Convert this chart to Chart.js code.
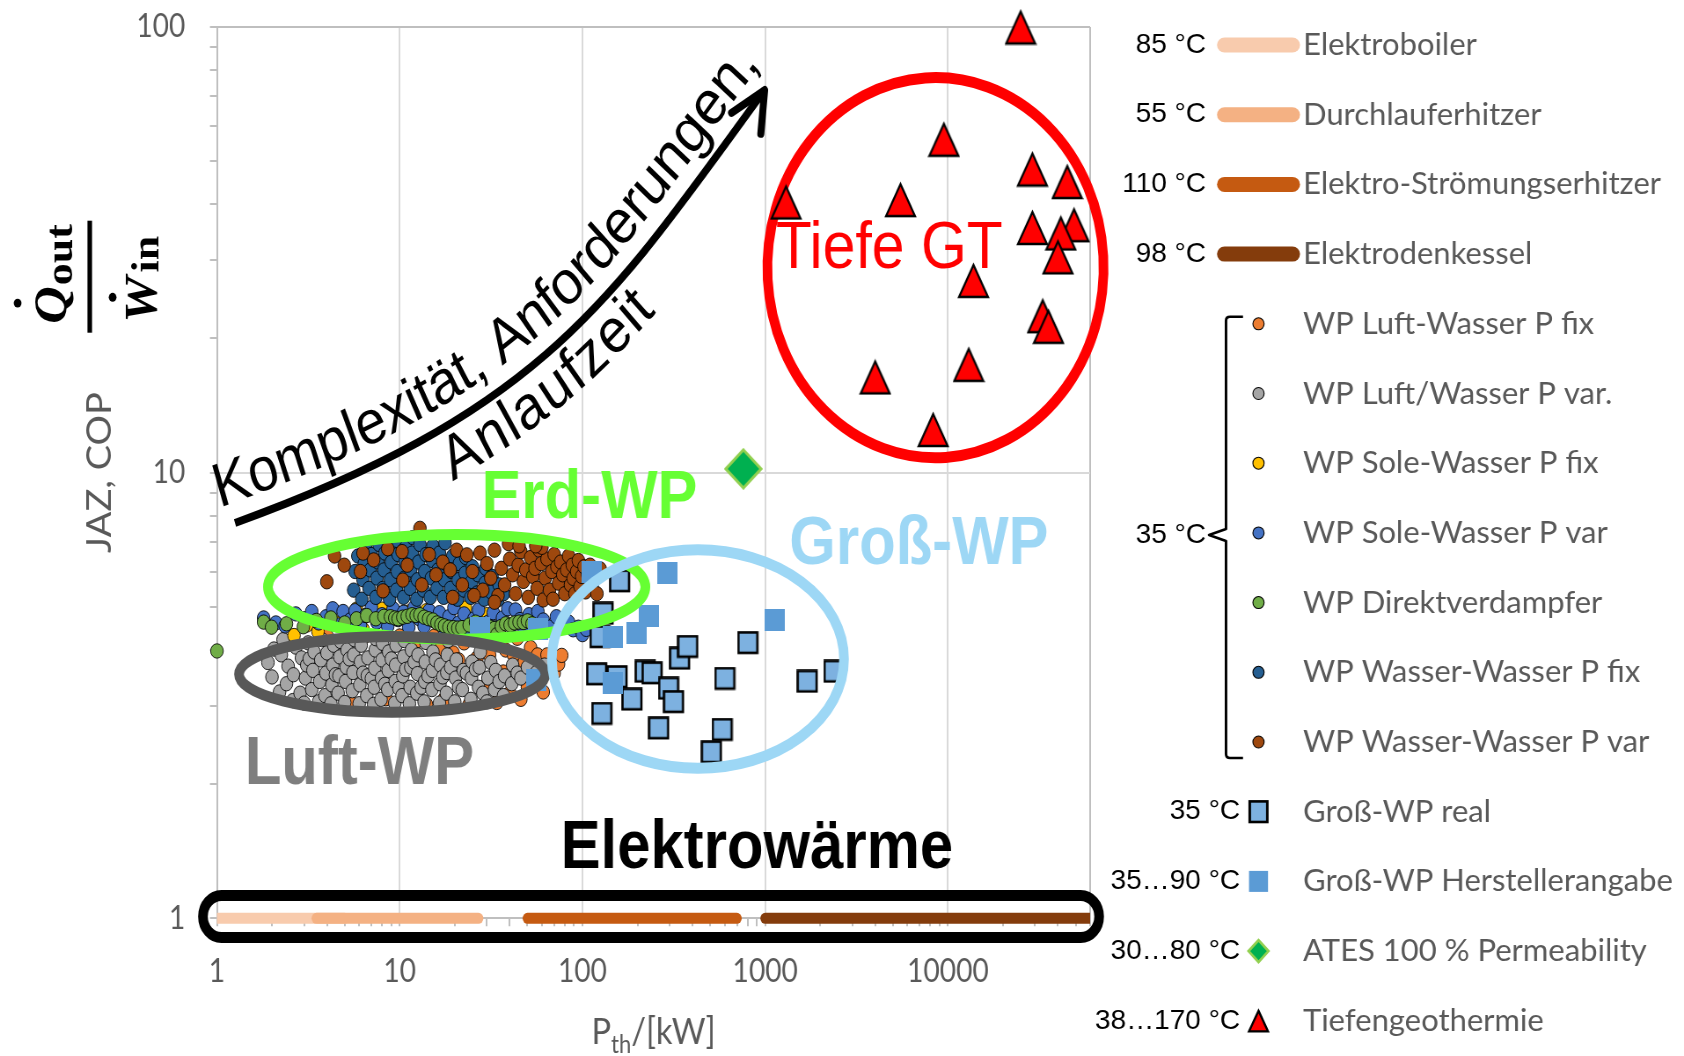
<!DOCTYPE html>
<html>
<head>
<meta charset="utf-8">
<title>JAZ / COP über thermischer Leistung</title>
<script src="https://cdn.jsdelivr.net/npm/chart.js@4.4.1/dist/chart.umd.min.js"></script>
<style>
  html, body { margin: 0; padding: 0; background: #ffffff; }
  canvas { display: block; }
</style>
</head>
<body>
<canvas id="chart" width="1914" height="1056" style="width:1684px;height:1056px"></canvas>
<script>
// The backing store is wider than the displayed canvas, so the whole figure
// appears horizontally condensed by K (the legend is drawn un-condensed).
const K = 1684 / 1914;

// ---------------- Elektrowärme: COP = 1, Leistungsbereiche in kW ----------------
const heaterLabels = ['Elektroboiler', 'Durchlauferhitzer', 'Elektro-Strömungserhitzer', 'Elektrodenkessel'];
const heaterFrom = [1, 3.5, 50, 1000];
const heaterTo = [5, 27, 700, 60000];
const heaterCop = [1, 1, 1, 1];
const heaterTemps = ['85 °C', '55 °C', '110 °C', '98 °C'];

// ---------------- Wärmepumpen: [P_th in kW, JAZ/COP] ----------------
const wpLuftWasserFix = [
  [4.0,4.3],[5.5,3.02],[6.5,4.3],[8.4,3.11],[10,4.3],[12.5,4.2],[14,3.02],[15.5,4.3],[16.5,4.0],
  [17.5,3.1],[19.6,3.94],[21,3.8],[22.5,4.15],[24,3.02],[26.5,3.84],[28,4.1],[29,3.3],[31,3.9],
  [33,4.2],[34,3.05],[36.9,3.57],[38,4.0],[40,3.2],[42,3.9],[44,4.25],[46,3.1],[48,3.75],[50,3.3],
  [52,4.05],[55,3.45],[56.8,3.9],[58,3.6],[61,3.22],[64,3.9],[70,3.55],[74,3.72],[77,3.89]
];
const wpLuftWasserVar = [
  [1.9,3.75],[2.0,3.48],[2.05,4.02],[2.2,3.22],[2.25,3.9],[2.3,4.22],[2.4,3.36],[2.45,3.68],
  [2.6,3.08],[2.62,3.52],[2.7,4.06],[2.85,3.2],[2.9,3.84],[3.0,3.04],[3.05,3.46],[3.1,3.7],
  [3.15,4.15],[3.2,3.82],[3.3,3.26],[3.35,3.6],[3.4,3.96],[3.6,3.06],[3.65,3.4],[3.7,3.8],
  [3.75,4.22],[3.9,3.16],[3.95,3.55],[4.0,3.94],[4.2,3.03],[4.25,3.34],[4.3,3.7],[4.35,4.1],
  [4.45,3.52],[4.6,3.2],[4.65,3.5],[4.7,3.86],[4.75,4.18],[5.0,3.05],[5.05,3.4],[5.1,3.66],
  [5.15,4.0],[5.3,3.82],[5.5,3.24],[5.55,3.56],[5.6,3.9],[5.65,4.22],[6.0,3.03],[6.05,3.34],
  [6.1,3.76],[6.15,4.1],[6.3,3.55],[6.6,3.16],[6.65,3.5],[6.7,3.84],[7.0,3.45],[7.2,3.02],
  [7.25,3.3],[7.3,3.64],[7.35,4.0],[7.4,4.24],[7.9,3.1],[7.95,3.46],[8.0,3.8],[8.05,4.14],
  [8.3,3.35],[8.6,3.26],[8.65,3.6],[8.7,3.96],[9.0,3.82],[9.4,3.04],[9.45,3.4],[9.5,3.7],
  [9.55,4.1],[9.9,3.28],[10.3,3.16],[10.4,3.5],[10.5,3.86],[10.6,4.2],[10.8,3.62],[11.3,3.03],
  [11.4,3.3],[11.5,3.66],[11.6,4.0],[12.0,3.76],[12.4,3.2],[12.5,3.54],[12.6,3.9],[13.1,3.3],
  [13.6,3.06],[13.7,3.4],[13.8,3.76],[13.9,4.16],[14.3,3.5],[15.0,3.26],[15.1,3.6],[15.2,3.96],
  [15.7,3.8],[16.5,3.04],[16.6,3.36],[16.7,3.7],[17.2,3.48],[18.0,3.2],[18.1,3.56],[18.2,3.9],
  [18.4,4.2],[19.0,3.66],[20.0,3.06],[20.2,3.46],[20.4,3.8],[21.0,3.3],[22.0,3.26],[22.3,3.6],
  [23.2,3.55],[24.5,3.1],[24.7,3.46],[24.9,3.76],[26.0,3.62],[27.0,3.3],[27.3,3.66],[27.6,3.96],
  [28.5,3.2],[30.0,3.06],[30.4,3.46],[31.5,3.75],[33.0,3.26],[33.5,3.6],[35.0,3.4],[37.0,3.16],
  [37.5,3.5],[41.0,3.36],[41.5,3.7],[44.0,3.55],[46.0,3.46],[50.0,3.66],[56.0,3.56],[62.0,3.7]
];
const wpSoleWasserFix = [
  [2.64,4.31],[3.1,4.55],[3.57,4.4],[4.5,4.6],[5.8,4.94],[6.3,4.45],[7.1,4.85],[8.0,4.94],
  [11.4,4.88],[14,4.9],[17,4.75],[22.9,4.97],[30,4.8],[51.8,4.74]
];
const wpSoleWasserVar = [
  [1.8,4.72],[2.1,4.6],[2.36,4.53],[2.7,4.82],[3.0,4.7],[3.3,4.88],[3.6,4.6],[3.95,4.75],[4.3,4.95],
  [4.6,4.55],[4.9,4.88],[5.35,4.67],[5.7,4.9],[6.1,4.55],[6.5,4.78],[7.0,4.98],[7.5,4.62],[8.0,4.8],
  [8.6,4.52],[9.2,4.95],[9.8,4.68],[10.5,4.86],[11.2,4.5],[12,4.98],[12.8,4.7],[13.6,4.52],[14.5,4.9],
  [15.5,4.65],[16.5,4.85],[17.5,4.45],[18.6,4.75],[19.8,4.98],[21,4.6],[22.5,4.82],[24,4.45],
  [25.5,4.7],[27,4.92],[28.6,4.44],[30.5,4.62],[32.5,4.85],[34.5,4.5],[36.5,4.72],[39,4.95],[41,4.55],
  [43,4.92],[45.5,4.68],[48,4.45],[51,4.8],[54,4.6],[57,4.88],[61,4.67],[66,4.5],[72,4.75],[78,4.55],
  [84,4.62],[89,4.44],[95,4.5],[100,4.33],[105,4.45]
];
const wpDirektverdampfer = [
  [1.0,3.98],[1.8,4.62],[1.99,4.5],[2.4,4.58],[2.97,4.51],[3.5,4.66],[4.2,4.72],[5.0,4.6],[5.8,4.7],
  [6.6,4.78],[7.4,4.7],[8.2,4.76],[8.9,4.75],[9.4,4.72],[9.8,4.7],[10.4,4.74],[11.0,4.76],[11.7,4.8],
  [12.3,4.78],[12.9,4.8],[13.6,4.74],[14.4,4.7],[15.2,4.67],[16.0,4.6],[16.8,4.56],[17.6,4.53],
  [18.6,4.5],[19.7,4.49],[20.8,4.48],[21.9,4.49],[24,4.55],[26,4.62],[28,4.58],[29.6,4.52],[31.3,4.5],
  [33,4.47],[34,4.33],[36,4.52],[38,4.58],[40.2,4.55],[42.5,4.6],[45,4.62],[47.6,4.61],[50,4.65],[53,4.58]
];
const wpWasserWasserFix = [
  [5.6,5.45],[5.7,6.0],[5.9,6.5],[6.2,5.2],[6.3,5.75],[6.4,6.25],[6.5,6.8],[6.8,5.5],[6.9,6.05],
  [7.0,6.55],[7.4,5.25],[7.5,5.8],[7.6,6.3],[7.7,6.9],[8.1,5.5],[8.2,6.05],[8.3,6.6],[8.8,5.2],
  [8.9,5.75],[9.0,6.3],[9.1,6.85],[9.6,5.45],[9.7,6.0],[9.8,6.55],[9.6,7.05],[10.5,5.25],[10.6,5.8],
  [10.7,6.3],[10.8,6.8],[11.4,5.5],[11.5,6.05],[11.7,6.6],[11.8,7.15],[12.4,5.2],[12.5,5.75],
  [12.7,6.3],[12.9,6.9],[13.5,5.45],[13.7,6.0],[13.9,6.55],[14.7,5.25],[14.9,5.8],[15.1,6.35],
  [15.2,6.85],[16,5.5],[16.2,6.05],[16.5,6.6],[17.7,6.96],[17.4,5.25],[17.6,5.75],[17.9,6.25],
  [19,5.5],[19.2,6.0],[19.5,6.5],[20.7,5.2],[20.9,5.75],[21.2,6.25],[22.5,5.45],[22.8,5.95],
  [23,6.45],[24.5,5.25],[24.8,5.7],[25,6.15],[26.5,5.37],[26.8,5.9],[29,5.2],[29.3,5.65],[29.6,6.1],
  [31.6,5.4],[32,5.85],[34.4,5.18],[35,5.6],[37,5.35]
];
const wpWasserWasserVar = [
  [3.99,5.69],[4.4,6.5],[4.97,6.2],[6.1,6.0],[6.3,6.6],[7.2,6.37],[8.1,5.43],[8.6,6.75],[10.3,6.65],
  [10.4,5.74],[12.9,7.5],[11,6.2],[13.2,5.6],[14.5,6.55],[15.8,5.9],[17.2,6.3],[18.9,6.05],[20.5,6.7],
  [22,5.6],[23.3,6.54],[25,6.0],[27.5,6.6],[28.5,5.45],[30,6.25],[31.5,5.8],[33,6.7],[34.5,5.3],
  [36,6.1],[37.5,5.6],[39.4,6.93],[40,6.4],[41.5,5.9],[43,5.35],[44.5,6.2],[46,6.65],[47.5,5.7],
  [49,6.05],[50.5,5.25],[52,6.45],[53.5,5.85],[55,6.1],[56.5,5.5],[58,6.7],[59.5,6.25],[61,5.18],
  [62.5,5.8],[64,6.4],[66,5.45],[68,6.0],[69,5.2],[70,6.55],[72.5,6.15],[74,5.65],[76,6.3],[78,5.9],
  [80,5.35],[82,6.05],[84,6.5],[86,5.6],[88,6.2],[89,5.79],[91,5.35],[93,6.0],[95,6.35],[97,5.55],
  [99,5.85],[102,6.15],[104,5.4],[107,5.9],[110,6.2],[113,5.6],[116,5.95],[120,5.35],[125,6.08],
  [60,6.8],[45,6.85],[33,5.12],[25.5,5.3],[19.5,5.25],[55.5,6.85]
];
const wpTemp = '35 °C';

// ---------------- Großwärmepumpen, ATES, Tiefengeothermie ----------------
const grossWpReal = [
  [160,5.71],[130,4.83],[125,4.28],[120,3.53],[155,3.48],[221,3.58],[241,3.55],[187,3.1],[128,2.88],
  [262,2.67],[297,3.28],[316,3.06],[341,3.83],[378,4.07],[603,3.45],[806,4.15],[583,2.65],[509,2.36],
  [1702,3.4],[2383,3.58]
];
const grossWpHersteller = [
  [112,5.97],[291,5.96],[231,4.77],[198,4.37],[146,4.28],[1127,4.67],[146,3.38],[27.5,4.49],[57,4.45],[56,3.43]
];
const ates = [[760,10.2]];
const tiefengeothermie = [
  [25000,100],[9500,56],[29000,48],[45000,45],[1300,40.5],[5500,41],[29000,35.5],[49000,36],
  [41500,34.5],[40000,30.5],[13800,27],[33000,22.5],[35500,21.3],[13000,17.5],[4000,16.4],[8300,12.5]
];
const otherTemps = ['35 °C', '35…90 °C', '30…80 °C', '38…170 °C'];

// ---------------- axes ----------------
const xTickLabels = [1, 10, 100, 1000, 10000];
const xMax = 60000;
const yTickLabels = [1, 10, 100];

// ---------------- helpers ----------------
const toXY = arr => arr.map(([x, y]) => ({x, y}));

function logTicks(majors, max) {
  const out = [];
  majors.forEach(d => { for (let m = 1; m <= 9; m++) { const v = m * d; if (v <= max + 1e-9) out.push(v); } });
  if (out[out.length - 1] !== max) out.push(max);
  return out.map(v => ({value: v}));
}

function markerCanvas(w, h, paint) {
  const c = document.createElement('canvas');
  c.width = w; c.height = h;
  paint(c.getContext('2d'), w, h);
  return c;
}
const triangleMarker = markerCanvas(37, 37, (g, w, h) => {
  g.beginPath(); g.moveTo(w / 2, 3); g.lineTo(w - 2, h - 2); g.lineTo(2, h - 2); g.closePath();
  g.fillStyle = '#ff0000'; g.fill(); g.lineWidth = 2.3; g.strokeStyle = '#000'; g.stroke();
});
const squareRealMarker = markerCanvas(25, 24, (g) => {
  g.fillStyle = '#7db1e0'; g.fillRect(1.5, 1.5, 21.5, 20.5);
  g.lineWidth = 2.6; g.strokeStyle = '#000'; g.strokeRect(1.5, 1.5, 21.5, 20.5);
});
const squarePlainMarker = markerCanvas(23, 22, (g, w, h) => {
  g.fillStyle = '#5b9bd5'; g.fillRect(0, 0, w, h);
});
const diamondMarker = markerCanvas(44, 42, (g, w, h) => {
  g.beginPath(); g.moveTo(w / 2, 2); g.lineTo(w - 2, h / 2); g.lineTo(w / 2, h - 2); g.lineTo(2, h / 2); g.closePath();
  g.fillStyle = '#00b050'; g.fill(); g.lineWidth = 3; g.strokeStyle = '#92d050'; g.stroke();
});

// ---------------- datasets (legend order; later series drawn on top) ----------------
const heaterColors = ['#f8cbad', '#f4b183', '#c55a11', '#843c0c'];
const datasets = [];
heaterLabels.forEach((label, i) => {
  datasets.push({
    type: 'line', label,
    data: [{x: heaterFrom[i], y: heaterCop[i]}, {x: heaterTo[i], y: heaterCop[i]}],
    borderColor: heaterColors[i], borderWidth: 11, borderCapStyle: 'round',
    pointRadius: 0, fill: false, showLine: true,
    clip: i === 0 ? {left: 0, top: false, right: false, bottom: false}
        : i === 3 ? {left: false, top: false, right: 0, bottom: false} : false,
    legendMarker: 'bar', temp: heaterTemps[i], tempRight: 1206
  });
});
[
  ['WP Luft-Wasser P fix', wpLuftWasserFix, '#ed7d31'],
  ['WP Luft/Wasser P var.', wpLuftWasserVar, '#a5a5a5'],
  ['WP Sole-Wasser P fix', wpSoleWasserFix, '#ffc000'],
  ['WP Sole-Wasser P var', wpSoleWasserVar, '#4472c4'],
  ['WP Direktverdampfer', wpDirektverdampfer, '#70ad47'],
  ['WP Wasser-Wasser P fix', wpWasserWasserFix, '#255e91'],
  ['WP Wasser-Wasser P var', wpWasserWasserVar, '#9e480e']
].forEach(([label, arr, color]) => {
  datasets.push({
    label, data: toXY(arr), backgroundColor: color, borderColor: 'rgba(0,0,0,0.85)', borderWidth: 1,
    pointStyle: 'circle', pointRadius: 7.2, clip: false, legendMarker: 'circle'
  });
});
datasets.push({label: 'Groß-WP real', data: toXY(grossWpReal), pointStyle: squareRealMarker, pointRadius: 11,
  clip: false, legendMarker: 'squareBorder', temp: otherTemps[0], tempRight: 1240});
datasets.push({label: 'Groß-WP Herstellerangabe', data: toXY(grossWpHersteller), pointStyle: squarePlainMarker, pointRadius: 11,
  clip: false, legendMarker: 'square', temp: otherTemps[1], tempRight: 1240});
datasets.push({label: 'ATES 100 % Permeability', data: toXY(ates), pointStyle: diamondMarker, pointRadius: 14,
  clip: false, legendMarker: 'diamond', temp: otherTemps[2], tempRight: 1240});
datasets.push({label: 'Tiefengeothermie', data: toXY(tiefengeothermie), pointStyle: triangleMarker, pointRadius: 14,
  clip: false, legendMarker: 'triangle', temp: otherTemps[3], tempRight: 1240});
datasets.forEach((d, i) => { d.order = 100 - i; });

// ---------------- annotation geometry (data coordinates) ----------------
const rings = [
  {x0: 1.9, x1: 221, y0: 4.23, y1: 7.26, color: '#66ff33', rot: 0},
  {x0: 1.32, x1: 62.7, y0: 2.9, y1: 4.29, color: '#585858', rot: 0},
  {x0: 68, x1: 2700, y0: 2.17, y1: 6.71, color: '#9dd7f5', rot: 0}
];
const deepRing = {x0: 1028, x1: 71100, y0: 10.8, y1: 77.0, color: '#ff0000', rot: -3.5};
const groupLabels = [
  {text: 'Erd-WP', x: 28.0, y: 7.9, color: '#66ff33'},
  {text: 'Luft-WP', x: 1.42, y: 2.0, color: '#7f7f7f'},
  {text: 'Groß-WP', x: 1355, y: 6.24, color: '#9dd7f5'},
  {text: 'Elektrowärme', x: 76, y: 1.3, color: '#000000'}
];
const deepLabel = {text: 'Tiefe GT', x: 1142, y: 28.8, color: '#ff0000'};
const heaterBox = {x0: 0.838, x1: 67200, y: 1, half: 21};
const trendCurve = [[1.255, 7.71], [62.7, 13.8], [144, 24.4], [993, 72.2]];
const trendTextTop = 'Komplexität, Anforderungen,';
const trendTextBottom = 'Anlaufzeit';

function px(chart, x, y) {
  return [chart.scales.x.getPixelForValue(x), chart.scales.y.getPixelForValue(y)];
}
function strokeRing(ctx, chart, r) {
  const [l, t] = px(chart, r.x0, r.y1);
  const [rr, b] = px(chart, r.x1, r.y0);
  ctx.beginPath();
  ctx.ellipse((l + rr) / 2, (t + b) / 2, (rr - l) / 2, (b - t) / 2, r.rot * Math.PI / 180, 0, Math.PI * 2);
  ctx.lineWidth = 11; ctx.strokeStyle = r.color; ctx.stroke();
}
function labelAt(ctx, chart, L, font) {
  const [x, y] = px(chart, L.x, L.y);
  ctx.font = font; ctx.fillStyle = L.color; ctx.textAlign = 'left'; ctx.textBaseline = 'alphabetic';
  ctx.fillText(L.text, x, y);
}

function bezierPath(P, n) {
  const pts = [], cum = []; let len = 0;
  for (let i = 0; i <= n; i++) {
    const t = i / n, u = 1 - t;
    const x = u*u*u*P[0][0] + 3*u*u*t*P[1][0] + 3*u*t*t*P[2][0] + t*t*t*P[3][0];
    const y = u*u*u*P[0][1] + 3*u*u*t*P[1][1] + 3*u*t*t*P[2][1] + t*t*t*P[3][1];
    if (i > 0) len += Math.hypot(x - pts[i - 1][0], y - pts[i - 1][1]);
    pts.push([x, y]); cum.push(len);
  }
  return {pts, cum, len};
}
function pointOnPath(path, s) {
  const {pts, cum, len} = path, n = pts.length - 1;
  if (s <= 0) {
    const a = Math.atan2(pts[1][1] - pts[0][1], pts[1][0] - pts[0][0]);
    return {x: pts[0][0] + Math.cos(a) * s, y: pts[0][1] + Math.sin(a) * s, a};
  }
  if (s >= len) {
    const a = Math.atan2(pts[n][1] - pts[n - 1][1], pts[n][0] - pts[n - 1][0]);
    const d = s - len;
    return {x: pts[n][0] + Math.cos(a) * d, y: pts[n][1] + Math.sin(a) * d, a};
  }
  let i = 1; while (cum[i] < s) i++;
  const f = (s - cum[i - 1]) / (cum[i] - cum[i - 1] || 1);
  const a = Math.atan2(pts[i][1] - pts[i - 1][1], pts[i][0] - pts[i - 1][0]);
  return {x: pts[i - 1][0] + (pts[i][0] - pts[i - 1][0]) * f, y: pts[i - 1][1] + (pts[i][1] - pts[i - 1][1]) * f, a};
}
function textOnPath(ctx, path, text, s0, offset) {
  let s = s0;
  for (const ch of text) {
    const w = ctx.measureText(ch).width;
    const p = pointOnPath(path, s + w / 2);
    const nx = Math.sin(p.a), ny = -Math.cos(p.a);
    ctx.save();
    ctx.translate(p.x + nx * offset, p.y + ny * offset);
    ctx.rotate(p.a);
    ctx.fillText(ch, -w / 2, 0);
    ctx.restore();
    s += w;
  }
}

// red ring and its label sit underneath the triangles
const underlayPlugin = {
  id: 'underlay',
  beforeDatasetsDraw(chart) {
    const ctx = chart.ctx;
    ctx.save();
    strokeRing(ctx, chart, deepRing);
    labelAt(ctx, chart, deepLabel, '67px "Liberation Sans", Arial, sans-serif');
    ctx.restore();
  }
};

const overlayPlugin = {
  id: 'overlay',
  afterDatasetsDraw(chart) {
    const ctx = chart.ctx;
    const area = chart.chartArea;
    ctx.save();
    rings.forEach(r => strokeRing(ctx, chart, r));

    // frame around the electric heaters
    const [bx0, by] = px(chart, heaterBox.x0, heaterBox.y);
    const [bx1] = px(chart, heaterBox.x1, heaterBox.y);
    const h = heaterBox.half;
    ctx.beginPath();
    ctx.roundRect(bx0, by - h - 1.8, bx1 - bx0, 2 * h, h);
    ctx.lineWidth = 11; ctx.strokeStyle = '#000'; ctx.stroke();

    groupLabels.forEach(L => labelAt(ctx, chart, L, 'bold 68px "Liberation Sans", Arial, sans-serif'));

    // trend arrow
    const P = trendCurve.map(([x, y]) => px(chart, x, y));
    ctx.beginPath();
    ctx.moveTo(P[0][0], P[0][1]);
    ctx.bezierCurveTo(P[1][0], P[1][1], P[2][0], P[2][1], P[3][0], P[3][1]);
    ctx.lineWidth = 8; ctx.lineCap = 'butt'; ctx.strokeStyle = '#000'; ctx.stroke();
    const back = Math.atan2(P[2][1] - P[3][1], P[2][0] - P[3][0]);
    const a1 = back + 19 * Math.PI / 180, a2 = back - 34 * Math.PI / 180, al = 44;
    ctx.beginPath();
    ctx.moveTo(P[3][0] + Math.cos(a1) * al, P[3][1] + Math.sin(a1) * al);
    ctx.lineTo(P[3][0], P[3][1]);
    ctx.lineTo(P[3][0] + Math.cos(a2) * al, P[3][1] + Math.sin(a2) * al);
    ctx.lineJoin = 'round'; ctx.lineCap = 'round'; ctx.stroke();

    const path = bezierPath(P, 600);
    ctx.fillStyle = '#000';
    ctx.font = '62px "Liberation Sans", Arial, sans-serif';
    ctx.textAlign = 'left'; ctx.textBaseline = 'alphabetic';
    textOnPath(ctx, path, trendTextTop, -12, 20);
    textOnPath(ctx, path, trendTextBottom, 240, -52);

    // x axis title: P_th/[kW]
    ctx.fillStyle = '#595959';
    const fMain = '37px Lato, "Open Sans", sans-serif', fSub = '25px Lato, "Open Sans", sans-serif';
    ctx.font = fMain; const wP = ctx.measureText('P').width; const wRest = ctx.measureText('/[kW]').width;
    ctx.font = fSub; const wSub = ctx.measureText('th').width;
    const tx = (area.left + area.right) / 2 - (wP + wSub + wRest) / 2;
    const ty = area.bottom + 126;
    ctx.font = fMain; ctx.fillText('P', tx, ty);
    ctx.font = fSub; ctx.fillText('th', tx + wP, ty + 9);
    ctx.font = fMain; ctx.fillText('/[kW]', tx + wP + wSub, ty);

    // ratio Q̇out / Ẇin, written bottom-to-top
    ctx.save();
    ctx.translate(102, 276.7);
    ctx.rotate(-Math.PI / 2);
    ctx.fillStyle = '#000';
    ctx.fillRect(-56, -2.6, 112, 5.2);
    const serifBI = 'italic bold 52px "Liberation Serif", "DejaVu Serif", serif';
    const serifB = 'bold 44px "Liberation Serif", "DejaVu Serif", serif';
    ctx.font = serifBI; const wQ = ctx.measureText('Q').width;
    ctx.fillText('Q', -47, -27);
    ctx.beginPath(); ctx.arc(-47 + wQ * 0.55, -82, 4.4, 0, Math.PI * 2); ctx.fill();
    ctx.font = serifB; ctx.fillText('out', -47 + wQ + 1, -20);
    ctx.font = serifBI; const wW = ctx.measureText('W').width;
    ctx.fillText('W', -46, 76);
    ctx.beginPath(); ctx.arc(-46 + wW * 0.55, 26, 4.4, 0, Math.PI * 2); ctx.fill();
    ctx.font = serifB; ctx.fillText('in', -46 + wW + 4, 78);
    ctx.restore();

    ctx.restore();
  },
  afterDraw(chart) {
    // legend, drawn in on-screen pixels
    const ctx = chart.ctx;
    ctx.save();
    ctx.scale(1 / K, 1);
    const rowY = i => 45 + i * 69.7;
    const cx = 1258.5;
    chart.data.datasets.forEach((ds, i) => {
      const y = rowY(i);
      ctx.save();
      if (ds.legendMarker === 'bar') {
        ctx.beginPath(); ctx.moveTo(1224.5, y); ctx.lineTo(1292.5, y);
        ctx.lineWidth = 15; ctx.lineCap = 'round'; ctx.strokeStyle = ds.borderColor; ctx.stroke();
      } else if (ds.legendMarker === 'circle') {
        ctx.beginPath(); ctx.ellipse(cx, y, 5.6, 6, 0, 0, Math.PI * 2);
        ctx.fillStyle = ds.backgroundColor; ctx.fill();
        ctx.lineWidth = 1; ctx.strokeStyle = '#000'; ctx.stroke();
      } else if (ds.legendMarker === 'squareBorder') {
        ctx.fillStyle = '#7db1e0'; ctx.fillRect(cx - 8.8, y - 10.3, 17.6, 20.6);
        ctx.lineWidth = 2.6; ctx.strokeStyle = '#000'; ctx.strokeRect(cx - 8.8, y - 10.3, 17.6, 20.6);
      } else if (ds.legendMarker === 'square') {
        ctx.fillStyle = '#5b9bd5'; ctx.fillRect(cx - 9.5, y - 10.5, 19, 21);
      } else if (ds.legendMarker === 'diamond') {
        ctx.beginPath(); ctx.moveTo(cx, y - 11); ctx.lineTo(cx + 10, y); ctx.lineTo(cx, y + 11); ctx.lineTo(cx - 10, y); ctx.closePath();
        ctx.fillStyle = '#00b050'; ctx.fill(); ctx.lineWidth = 2.5; ctx.strokeStyle = '#92d050'; ctx.stroke();
      } else if (ds.legendMarker === 'triangle') {
        ctx.beginPath(); ctx.moveTo(cx, y - 10); ctx.lineTo(cx + 9.5, y + 10.5); ctx.lineTo(cx - 9.5, y + 10.5); ctx.closePath();
        ctx.fillStyle = '#ff0000'; ctx.fill(); ctx.lineWidth = 2.2; ctx.strokeStyle = '#000'; ctx.stroke();
      }
      ctx.restore();
      ctx.fillStyle = '#595959';
      ctx.font = '31px Lato, "Open Sans", sans-serif';
      ctx.textAlign = 'left'; ctx.textBaseline = 'middle';
      ctx.fillText(ds.label, 1303, y);
      if (ds.temp) {
        ctx.fillStyle = '#000';
        ctx.font = '28px "Liberation Sans Narrow", "Liberation Sans", sans-serif';
        ctx.textAlign = 'right';
        ctx.fillText(ds.temp, ds.tempRight, y);
      }
    });
    // brace grouping the heat pump series
    const yTop = rowY(4) - 7, yBot = rowY(10) + 16, yMid = rowY(7) + 2;
    ctx.beginPath();
    ctx.moveTo(1243, yTop); ctx.lineTo(1230, yTop); ctx.quadraticCurveTo(1226, yTop, 1226, yTop + 4);
    ctx.lineTo(1226, yMid - 6); ctx.lineTo(1209, yMid); ctx.lineTo(1226, yMid + 6);
    ctx.lineTo(1226, yBot - 4); ctx.quadraticCurveTo(1226, yBot, 1230, yBot); ctx.lineTo(1243, yBot);
    ctx.lineWidth = 2.6; ctx.strokeStyle = '#000'; ctx.lineJoin = 'round'; ctx.stroke();
    ctx.fillStyle = '#000';
    ctx.font = '28px "Liberation Sans Narrow", "Liberation Sans", sans-serif';
    ctx.textAlign = 'right'; ctx.textBaseline = 'middle';
    ctx.fillText(wpTemp, 1206, yMid);
    ctx.restore();
  }
};

function gridColor(majors, max, edge) {
  return c => {
    const v = c.tick && c.tick.value;
    if (v === max) return edge;
    if (majors.includes(v) && v !== majors[0]) return '#d9d9d9';
    return 'rgba(0,0,0,0)';
  };
}

new Chart(document.getElementById('chart'), {
  type: 'scatter',
  data: {datasets},
  options: {
    responsive: false, animation: false, devicePixelRatio: 1, events: [],
    layout: {padding: {left: 0, right: 675, top: 27, bottom: 0}},
    plugins: {legend: {display: false}, tooltip: {enabled: false}},
    scales: {
      x: {
        type: 'logarithmic', position: 'bottom', min: 1, max: xMax,
        afterBuildTicks: s => { s.ticks = logTicks(xTickLabels, xMax); },
        afterFit: s => { s.height = 137.7; s.paddingLeft = 0; s.paddingRight = 0; },
        ticks: {
          autoSkip: false, maxRotation: 0, padding: 26, color: '#595959',
          font: {family: 'Lato', size: 32},
          callback: v => xTickLabels.includes(v) ? String(v) : ''
        },
        grid: {color: gridColor(xTickLabels, xMax, '#bfbfbf'), lineWidth: 2, tickColor: '#bfbfbf', tickLength: 8, tickWidth: 2},
        border: {display: true, color: '#bfbfbf', width: 2}
      },
      y: {
        type: 'logarithmic', position: 'left', min: 1, max: 100,
        afterBuildTicks: s => { s.ticks = logTicks(yTickLabels.slice(0, -1), 100); },
        afterFit: s => { s.width = 246.6; s.paddingTop = 0; s.paddingBottom = 0; },
        ticks: {
          padding: 28, color: '#595959', font: {family: 'Lato', size: 32},
          callback: v => yTickLabels.includes(v) ? String(v) : ''
        },
        grid: {color: gridColor(yTickLabels, 100, '#bfbfbf'), lineWidth: 2, tickColor: '#bfbfbf', tickLength: 8, tickWidth: 2},
        border: {display: true, color: '#bfbfbf', width: 2},
        title: {display: true, text: 'JAZ, COP', color: '#595959', font: {family: 'Lato', size: 38}, padding: {top: 90.8, bottom: 0}}
      }
    }
  },
  plugins: [underlayPlugin, overlayPlugin]
});
</script>
</body>
</html>
